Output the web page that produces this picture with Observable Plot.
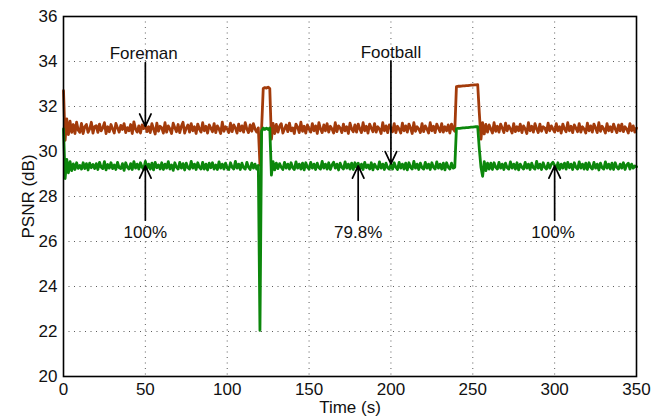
<!DOCTYPE html>
<html>
<head>
<meta charset="utf-8">
<script src="https://cdn.jsdelivr.net/npm/d3@7"></script>
<script src="https://cdn.jsdelivr.net/npm/@observablehq/plot@0.6"></script>
<style>
  html, body { margin: 0; padding: 0; background: #fff; }
  #chart svg { display: block; }
</style>
</head>
<body>
<div id="chart"></div>
<script>
// PSNR (dB) sampled once per second, t = 0 .. 350 s
const foreman = [
32.70,30.50,31.45,30.75,31.35,30.85,31.20,30.80,31.30,30.95,30.85,31.25,30.80,31.10,31.20,30.85,31.00,31.30,30.82,31.10,
31.15,30.85,31.22,30.92,31.05,31.28,30.80,31.10,30.88,31.20,31.00,30.82,31.25,31.05,30.86,31.16,30.98,31.24,30.84,31.06,
30.92,31.20,30.80,31.32,31.00,30.86,31.14,30.82,31.18,31.02,31.20,30.88,31.10,30.84,31.24,31.00,30.78,31.26,30.90,31.12,
31.05,30.82,31.28,30.86,31.14,31.00,30.80,31.26,31.06,30.88,31.20,30.84,31.12,31.30,30.82,31.04,31.18,30.86,31.24,30.92,
31.10,30.80,31.22,31.00,30.86,31.28,30.92,31.12,30.82,31.18,31.04,30.88,31.24,30.84,31.14,31.00,30.80,31.30,30.90,31.10,
31.00,30.84,31.26,30.88,31.18,31.04,30.82,31.22,30.92,31.14,30.86,31.28,31.00,30.84,31.18,30.90,31.24,31.00,30.86,31.05,
29.40,31.00,32.80,32.84,32.82,32.86,32.80,30.55,31.25,30.80,31.20,30.86,31.12,31.24,30.82,31.00,31.18,30.88,31.26,30.92,
31.05,30.80,31.22,31.08,30.84,31.30,30.90,31.12,30.82,31.18,31.00,30.86,31.24,30.92,31.14,30.80,31.28,31.00,30.84,31.18,
30.92,31.24,30.86,31.12,31.00,30.82,31.28,30.88,31.14,31.04,30.84,31.22,30.92,31.10,30.80,31.26,31.00,30.88,31.18,30.86,
31.22,31.00,30.84,31.28,30.92,31.12,30.82,31.22,31.04,30.88,31.24,30.86,31.10,31.00,30.80,31.28,30.92,31.14,30.84,31.18,
31.04,30.88,31.24,30.84,31.12,31.00,30.82,31.26,30.92,31.14,30.86,31.22,31.04,30.80,31.28,30.90,31.10,31.00,30.84,31.24,
30.88,31.14,31.00,30.82,31.28,30.92,31.12,30.84,31.22,31.04,30.88,31.24,30.86,31.10,30.92,31.18,30.82,31.22,31.00,30.90,
32.88,32.90,32.90,32.91,32.92,32.92,32.93,32.93,32.94,32.95,32.95,32.96,32.96,32.97,31.70,30.55,31.28,30.78,31.20,30.86,
31.18,31.00,30.82,31.28,30.90,31.12,30.86,31.22,31.04,30.84,31.26,30.92,31.14,31.00,30.82,31.24,30.88,31.10,30.92,31.22,
30.84,31.14,31.00,30.80,31.28,30.92,31.12,30.86,31.24,31.00,30.84,31.22,30.90,31.10,31.04,30.84,31.26,30.92,31.14,31.00,
30.86,31.24,30.92,31.10,30.82,31.22,31.00,30.88,31.28,30.92,31.12,30.84,31.18,31.04,30.88,31.24,30.86,31.10,31.00,30.82,
31.26,30.92,31.14,30.86,31.22,31.04,30.84,31.28,30.90,31.12,31.00,30.82,31.24,30.92,31.10,30.88,31.22,31.00,30.84,31.18,
30.92,31.22,30.88,31.10,31.00,30.82,31.24,30.92,31.14,30.86,31.04
];
const football = [
31.00,28.80,29.65,29.05,29.55,29.15,29.45,29.20,29.50,29.25,29.38,29.22,29.50,29.24,29.46,29.18,29.48,29.28,29.42,29.24,
29.46,29.20,29.52,29.30,29.24,29.55,29.18,29.42,29.26,29.50,29.24,29.40,29.20,29.52,29.28,29.24,29.46,29.16,29.50,29.30,
29.22,29.46,29.20,29.55,29.26,29.44,29.22,29.50,29.30,29.20,29.56,29.26,29.44,29.22,29.48,29.18,29.52,29.28,29.40,29.22,
29.50,29.20,29.44,29.26,29.55,29.22,29.40,29.16,29.50,29.30,29.22,29.52,29.26,29.46,29.18,29.48,29.28,29.22,29.56,29.26,
29.44,29.20,29.50,29.30,29.22,29.52,29.22,29.44,29.18,29.48,29.28,29.50,29.22,29.40,29.20,29.54,29.26,29.44,29.22,29.48,
29.26,29.20,29.50,29.30,29.22,29.56,29.26,29.44,29.20,29.48,29.28,29.22,29.52,29.30,29.20,29.48,29.26,29.44,29.22,29.38,
22.05,30.90,31.04,30.98,31.04,30.98,31.04,28.95,29.55,29.18,29.48,29.24,29.46,29.30,29.20,29.52,29.26,29.44,29.22,29.50,
29.28,29.20,29.54,29.26,29.44,29.22,29.48,29.18,29.50,29.30,29.22,29.52,29.26,29.44,29.20,29.48,29.28,29.22,29.56,29.26,
29.44,29.22,29.50,29.20,29.40,29.52,29.26,29.44,29.18,29.48,29.30,29.22,29.54,29.26,29.44,29.22,29.48,29.20,29.50,29.30,
29.48,29.22,29.44,29.20,29.52,29.28,29.40,29.22,29.50,29.18,29.44,29.30,29.22,29.54,29.26,29.44,29.20,29.48,29.28,29.22,
29.44,29.22,29.50,29.30,29.20,29.52,29.26,29.44,29.22,29.48,29.18,29.50,29.30,29.22,29.56,29.26,29.44,29.20,29.48,29.28,
29.22,29.52,29.26,29.44,29.20,29.50,29.30,29.22,29.54,29.26,29.44,29.22,29.48,29.18,29.50,29.30,29.22,29.48,29.26,29.30,
31.02,31.03,31.03,31.04,31.05,31.05,31.06,31.06,31.07,31.08,31.08,31.09,31.10,31.10,30.10,29.30,28.90,29.55,29.15,29.48,
29.22,29.48,29.20,29.50,29.30,29.22,29.52,29.26,29.44,29.20,29.48,29.28,29.22,29.54,29.26,29.44,29.22,29.50,29.18,29.44,
29.30,29.22,29.52,29.26,29.44,29.20,29.48,29.28,29.22,29.56,29.26,29.44,29.20,29.50,29.30,29.22,29.48,29.26,29.44,29.52,
29.38,29.22,29.50,29.20,29.44,29.26,29.48,29.22,29.52,29.28,29.44,29.20,29.50,29.30,29.22,29.54,29.26,29.44,29.22,29.48,
29.20,29.50,29.30,29.22,29.52,29.26,29.44,29.18,29.48,29.28,29.22,29.54,29.26,29.44,29.22,29.48,29.20,29.50,29.30,29.22,
29.44,29.26,29.50,29.20,29.40,29.48,29.22,29.44,29.26,29.36,29.32
];

const xTicks = [0, 50, 100, 150, 200, 250, 300, 350];
const yTicks = [20, 22, 24, 26, 28, 30, 32, 34, 36];

// annotations: label text, label position, arrow start and end (data units)
const annLabels = ["Foreman", "Football", "100%", "79.8%", "100%"];
const annTextX  = [49, 200, 50, 180, 299];
const annTextY  = [34.36, 34.4, 26.42, 26.42, 26.42];
const annArrowX = [50, 200, 50, 180, 300];
const annFromY  = [33.95, 34.02, 26.95, 26.95, 26.95];
const annToY    = [31.12, 29.45, 29.36, 29.36, 29.36];

const colors = {Foreman: "#a33b0b", Football: "#0c870c"};

const rows = [];
foreman.forEach((v, i) => rows.push({t: i, psnr: v, seq: "Foreman"}));
football.forEach((v, i) => rows.push({t: i, psnr: v, seq: "Football"}));

const ann = annLabels.map((s, i) => ({
  label: s, tx: annTextX[i], ty: annTextY[i], ax: annArrowX[i], y1: annFromY[i], y2: annToY[i]
}));

const font = "'Liberation Sans', Arial, Helvetica, sans-serif";

const chart = Plot.plot({
  width: 652,
  height: 418,
  marginLeft: 63,
  marginRight: 16,
  marginTop: 16,
  marginBottom: 42,
  style: {fontFamily: font, fontSize: "17px", color: "#111", background: "#fff"},
  x: {domain: [0, 350], ticks: xTicks},
  y: {domain: [20, 36], ticks: yTicks},
  marks: [
    Plot.gridX(xTicks.slice(1, -1), {stroke: "#333", strokeOpacity: 0.8, strokeDasharray: "1,4.5", strokeWidth: 1}),
    Plot.gridY(yTicks.slice(1, -1), {stroke: "#333", strokeOpacity: 0.8, strokeDasharray: "1,4.5", strokeWidth: 1}),
    Plot.line(rows, {x: "t", y: "psnr", z: "seq", stroke: d => colors[d.seq], strokeWidth: 2.8, strokeLinejoin: "round"}),
    Plot.arrow(ann, {x1: "ax", y1: "y1", x2: "ax", y2: "y2", stroke: "#000", strokeWidth: 1.7, headLength: 12, headAngle: 50}),
    Plot.text(ann, {x: "tx", y: "ty", text: "label", fill: "#111", fontSize: 17}),
    Plot.frame({stroke: "#000", strokeWidth: 1.6}),
    Plot.axisX(xTicks, {tickSize: 0, tickPadding: 6, label: "Time (s)", labelAnchor: "center", labelArrow: "none", labelOffset: 36, fontSize: 17}),
    Plot.axisY(yTicks, {tickSize: 0, tickPadding: 6, label: "PSNR (dB)", labelAnchor: "center", labelArrow: "none", labelOffset: 42, fontSize: 17})
  ]
});
document.getElementById("chart").appendChild(chart);
</script>
</body>
</html>
